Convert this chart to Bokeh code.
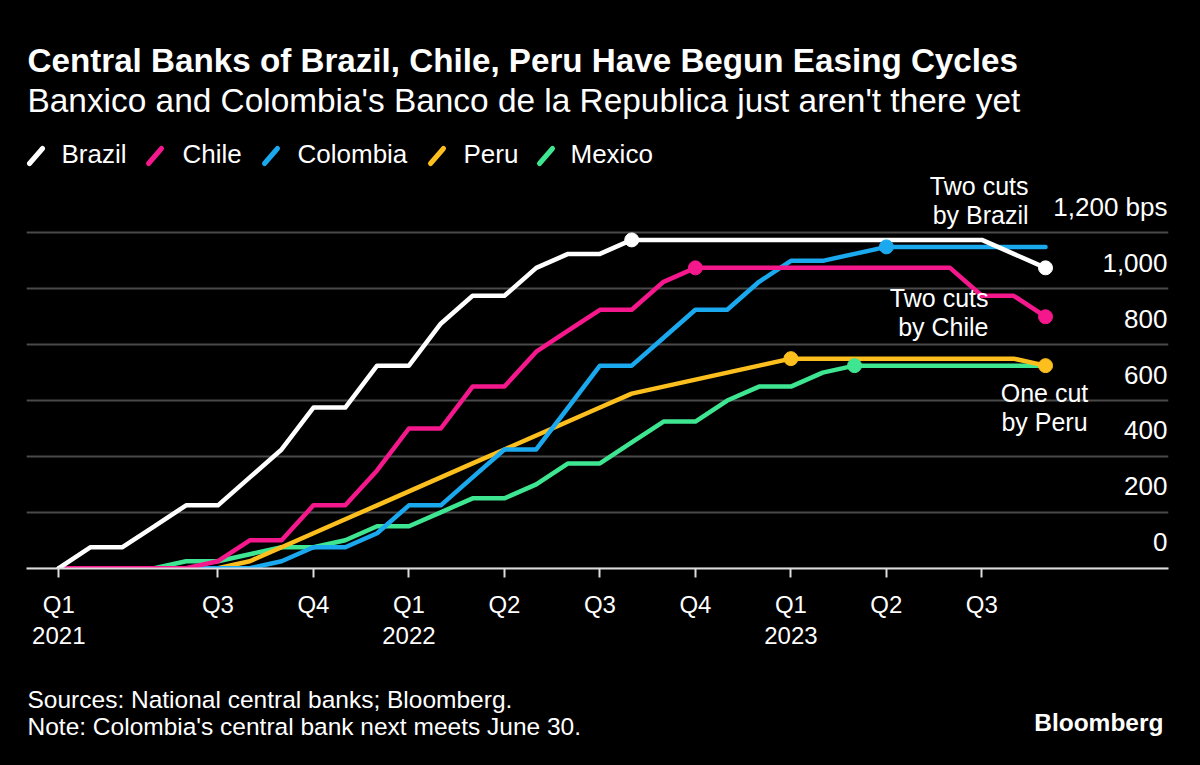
import numpy as np
from bokeh.plotting import figure
from bokeh.layouts import column
from bokeh.models import Range1d, FixedTicker, LinearAxis, Label, Arrow, Grid
from bokeh.core.properties import value
from bokeh.embed import file_html
from bokeh.resources import INLINE

# ---------------- data (cumulative change in policy rate, bps, end of month) -------------
months = ["2021-02", "2021-03", "2021-04", "2021-05", "2021-06", "2021-07", "2021-08", "2021-09",
          "2021-10", "2021-11", "2021-12", "2022-01", "2022-02", "2022-03", "2022-04", "2022-05",
          "2022-06", "2022-07", "2022-08", "2022-09", "2022-10", "2022-11", "2022-12", "2023-01",
          "2023-02", "2023-03", "2023-04", "2023-05", "2023-06", "2023-07", "2023-08", "2023-09"]
brazil = [0, 75, 75, 150, 225, 225, 325, 425, 575, 575, 725, 725, 875, 975, 975, 1075,
          1125, 1125, 1175, 1175, 1175, 1175, 1175, 1175, 1175, 1175, 1175, 1175, 1175, 1175, 1125, 1075]
chile = [0, 0, 0, 0, 0, 25, 100, 100, 225, 225, 350, 500, 500, 650, 650, 775,
         850, 925, 925, 1025, 1075, 1075, 1075, 1075, 1075, 1075, 1075, 1075, 1075, 975, 975, 900]
colombia = [0, 0, 0, 0, 0, 0, 0, 25, 75, 75, 125, 225, 225, 325, 425, 425,
            575, 725, 725, 825, 925, 925, 1025, 1100, 1100, 1125, 1150, 1150, 1150, 1150, 1150, 1150]
peru = [0, 0, 0, 0, 0, 0, 25, 75, 125, 175, 225, 275, 325, 375, 425, 475,
        525, 575, 625, 650, 675, 700, 725, 750, 750, 750, 750, 750, 750, 750, 750, 725]
mexico = [0, 0, 0, 0, 25, 25, 50, 75, 75, 100, 150, 150, 200, 250, 250, 300,
          375, 375, 450, 525, 525, 600, 650, 650, 700, 725, 725, 725, 725, 725, 725, 725]

series_names = ["Brazil", "Chile", "Colombia", "Peru", "Mexico"]
series_values = [brazil, chile, colombia, peru, mexico]
series_colors = ["#ffffff", "#f5178c", "#1aa9ef", "#fcbf1e", "#3fe692"]

q_ticks = [0, 5, 8, 11, 14, 17, 20, 23, 26, 29]
q_labels = ["Q1", "Q3", "Q4", "Q1", "Q2", "Q3", "Q4", "Q1", "Q2", "Q3"]
year_ticks = [0, 11, 23]
year_labels = ["2021", "2022", "2023"]
y_ticks = [0, 200, 400, 600, 800, 1000, 1200]
y_labels = ["0", "200", "400", "600", "800", "1,000", "1,200 bps"]

title = "Central Banks of Brazil, Chile, Peru Have Begun Easing Cycles"
subtitle = "Banxico and Colombia's Banco de la Republica just aren't there yet"
source_note = "Sources: National central banks; Bloomberg."
note = "Note: Colombia's central bank next meets June 30."
brand = "Bloomberg"
annotations = [(["Two cuts", "by Brazil"], "right", 1002, 383),
               (["Two cuts", "by Chile"], "right", 962, 271),
               (["One cut", "by Peru"], "center", 1018, 176)]

# ---------------- layout -------------
FONT = "Liberation Sans"
W = 1200
H_MAIN, H_FOOT = 668, 97
LEFT, RIGHT = 26, 32
FRAME_W, FRAME_H = W - LEFT - RIGHT, 568
PX_MONTH = 31.83
PX_BP = 0.2794
x_start = -32.3 / PX_MONTH
x_end = x_start + FRAME_W / PX_MONTH
y_start = -0.3 / PX_BP
y_end = y_start + FRAME_H / PX_BP

p = figure(width=W, height=H_MAIN, x_range=Range1d(x_start, x_end), y_range=Range1d(y_start, y_end),
           output_backend="svg", toolbar_location=None,
           x_axis_location=None, y_axis_location=None,
           min_border_left=LEFT, min_border_right=RIGHT, min_border_top=0, min_border_bottom=100,
           background_fill_color="black", border_fill_color="black", outline_line_color=None)
p.frame_align = False
p.center = []
p.add_layout(Grid(dimension=1, ticker=FixedTicker(ticks=y_ticks, minor_ticks=[]),
                  grid_line_color="#4a4a4a", grid_line_width=2))

xaxis = LinearAxis(ticker=FixedTicker(ticks=q_ticks, minor_ticks=[]),
                   major_label_overrides={t: l for t, l in zip(q_ticks, q_labels)},
                   axis_line_color="#dcdcdc", axis_line_width=2,
                   major_tick_line_color="#dcdcdc", major_tick_line_width=2,
                   major_tick_out=9, major_tick_in=0, minor_tick_line_color=None,
                   major_label_text_color="white", major_label_text_font=FONT,
                   major_label_text_font_size="24px", major_label_standoff=13)
p.add_layout(xaxis, "below")
year_axis = LinearAxis(ticker=FixedTicker(ticks=year_ticks, minor_ticks=[]),
                       major_label_overrides={t: l for t, l in zip(year_ticks, year_labels)},
                       axis_line_color=None, major_tick_line_color=None, minor_tick_line_color=None,
                       major_tick_out=0, major_tick_in=0,
                       major_label_text_color="white", major_label_text_font=FONT,
                       major_label_text_font_size="24px", major_label_standoff=6)
p.add_layout(year_axis, "below")

x = np.arange(len(months))
for name, vals, col in reversed(list(zip(series_names, series_values, series_colors))):
    p.line(x, vals, line_color=col, line_width=4.5, line_join="round", line_cap="round")
for name, vals, col in reversed(list(zip(series_names, series_values, series_colors))):
    v = np.array(vals)
    idx = [int(np.argmax(v))]
    if v[-1] < v.max():
        idx.append(len(v) - 1)
    p.scatter(x[idx], v[idx], size=14, fill_color=col, line_color=col)

p.text(x=[x_end] * len(y_ticks), y=y_ticks, text=y_labels, text_align="right",
       text_baseline="alphabetic", x_offset=-1, y_offset=-26, text_color="white",
       text_font=value(FONT), text_font_size="26px")

for lines, align, sx, sy in annotations:
    for i, t in enumerate(lines):
        p.add_layout(Label(x=sx, y=sy - 29 * i, x_units="screen", y_units="screen", text=t,
                           text_align=align, text_baseline="alphabetic", text_color="white",
                           text_font=FONT, text_font_size="25px"))

# title, subtitle
p.add_layout(Label(x=1, y=508, x_units="screen", y_units="screen", text=title,
                   text_baseline="alphabetic", text_color="white", text_font=FONT,
                   text_font_size="33.2px", text_font_style="bold"))
p.add_layout(Label(x=1, y=468, x_units="screen", y_units="screen", text=subtitle,
                   text_baseline="alphabetic", text_color="white", text_font=FONT,
                   text_font_size="33.4px"))
# legend
legend_icon_x = [3, 122, 238, 404, 513]
legend_text_x = [35, 156, 271, 437, 544]
for name, col, ix, tx in zip(series_names, series_colors, legend_icon_x, legend_text_x):
    p.add_layout(Arrow(x_start=ix, y_start=405, x_end=ix + 13, y_end=420,
                       start_units="screen", end_units="screen", end=None,
                       line_color=col, line_width=5, line_cap="round"))
    p.add_layout(Label(x=tx, y=415, x_units="screen", y_units="screen", text=name,
                       text_baseline="alphabetic", text_color="white", text_font=FONT,
                       text_font_size="26px"))

# ---------------- footer (x in page pixels) -------------
f = figure(width=W, height=H_FOOT, x_range=Range1d(LEFT, W - RIGHT), y_range=Range1d(H_FOOT, 0),
           output_backend="svg", toolbar_location=None,
           x_axis_location=None, y_axis_location=None,
           min_border_left=LEFT, min_border_right=RIGHT, min_border_top=0, min_border_bottom=0,
           background_fill_color="black", border_fill_color="black", outline_line_color=None)
f.frame_align = False
f.center = []
f.text(x=[27, 27], y=[31, 58], text=[source_note, note], text_align="left",
       text_baseline="alphabetic", text_color="white", text_font=value(FONT),
       text_font_size="24.5px")
f.text(x=[1163], y=[54], text=[brand], text_align="right", text_baseline="alphabetic",
       text_color="white", text_font=value(FONT), text_font_size="24.5px",
       text_font_style="bold")

layout = column(p, f, spacing=0, styles={"background-color": "black"})
open("out.html", "w").write(file_html(layout, INLINE))
